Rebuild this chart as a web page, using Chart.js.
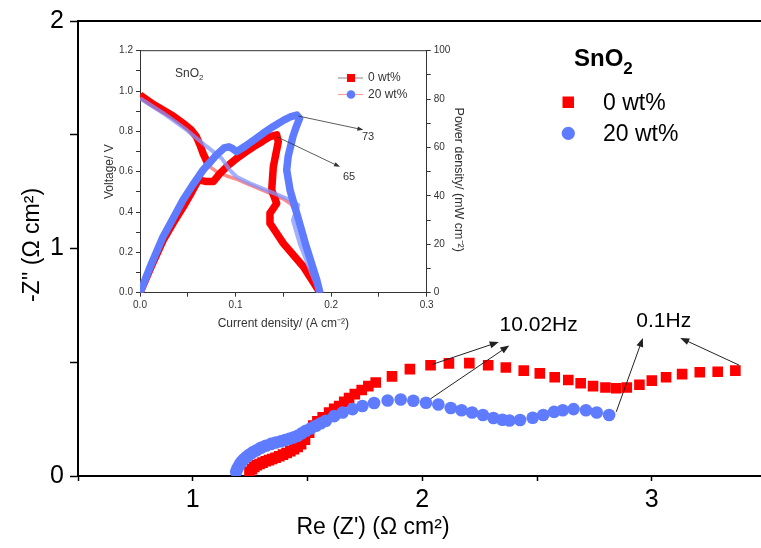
<!DOCTYPE html>
<html>
<head>
<meta charset="utf-8">
<script src="https://cdn.jsdelivr.net/npm/chart.js@4.4.0/dist/chart.umd.min.js"></script>
<style>
  body { margin: 0; background: #fff; }
  #wrap { position: relative; width: 761px; height: 548px; }
  #mainChart { position: absolute; left: 0; top: 0; }
  #insetChart { position: absolute; left: 85px; top: 38px; }
</style>
</head>
<body>
<div id="wrap">
  <canvas id="mainChart" width="761" height="548"></canvas>
  <canvas id="insetChart" width="400" height="300"></canvas>
</div>
<script>
const family = "'Liberation Sans', Arial, Helvetica, sans-serif";

// Nyquist data, 0 wt% (red squares)
const redX = [1.247,1.258,1.268,1.279,1.291,1.304,1.318,1.332,1.346,1.361,1.377,1.393,1.409,1.425,1.441,1.457,1.472,1.489,1.507,1.525,1.543,1.566,1.594,1.616,1.638,1.660,1.681,1.706,1.736,1.765,1.797,1.868,1.946,2.036,2.116,2.205,2.287,2.364,2.442,2.512,2.577,2.636,2.690,2.744,2.798,2.845,2.891,2.946,3.000,3.062,3.132,3.209,3.287,3.364];
const redY = [0.018,0.030,0.040,0.047,0.053,0.059,0.065,0.070,0.075,0.080,0.087,0.094,0.101,0.109,0.118,0.128,0.140,0.160,0.190,0.222,0.240,0.258,0.279,0.295,0.308,0.326,0.343,0.360,0.378,0.395,0.411,0.438,0.470,0.487,0.495,0.496,0.487,0.477,0.463,0.451,0.434,0.422,0.408,0.395,0.389,0.386,0.389,0.401,0.419,0.434,0.448,0.456,0.458,0.463];

// Nyquist data, 20 wt% (blue circles)
const blueX = [1.189,1.196,1.204,1.212,1.222,1.234,1.247,1.261,1.278,1.297,1.318,1.341,1.362,1.384,1.402,1.420,1.438,1.457,1.475,1.493,1.515,1.537,1.558,1.580,1.616,1.653,1.696,1.739,1.790,1.849,1.906,1.961,2.016,2.070,2.124,2.171,2.217,2.264,2.310,2.349,2.380,2.426,2.481,2.527,2.574,2.612,2.659,2.713,2.760,2.814];
const blueY = [0.019,0.035,0.050,0.062,0.073,0.084,0.094,0.104,0.113,0.124,0.133,0.141,0.147,0.153,0.158,0.163,0.169,0.177,0.188,0.199,0.210,0.221,0.232,0.243,0.263,0.279,0.294,0.308,0.321,0.332,0.336,0.331,0.322,0.314,0.299,0.289,0.279,0.268,0.255,0.247,0.244,0.246,0.256,0.268,0.282,0.289,0.294,0.289,0.279,0.268];

const mainXTicks = [1, 2, 3];
const mainYTicks = [0, 1, 2];

// frequency labels and their arrows (data units: x0, y0 -> x1, y1)
const hzLabels = [{text: '10.02Hz', x: 2.507, y: 0.662}, {text: '0.1Hz', x: 3.052, y: 0.68}];
const hzArrows = [[2.045,0.491,2.333,0.589],[2.037,0.340,2.379,0.574],[2.845,0.282,2.961,0.607],[3.381,0.487,3.124,0.607]];

// inset: polarisation (voltage) and power density curves
const ivRedX = [0,0.012,0.024,0.035,0.045,0.053,0.059,0.063,0.066,0.070,0.073,0.080,0.090,0.100,0.110,0.120,0.130,0.140,0.150,0.158,0.165,0.172,0.180,0.187];
const ivRedV = [0.98,0.94,0.906,0.875,0.84,0.81,0.774,0.73,0.691,0.65,0.625,0.60,0.58,0.565,0.545,0.525,0.505,0.485,0.465,0.44,0.38,0.28,0.15,0.02];
const ivBlueX = [0,0.0244,0.0488,0.070,0.0855,0.094,0.101,0.115,0.136,0.157,0.1656,0.160,0.167,0.178,0.1866];
const ivBlueV = [0.964,0.89,0.807,0.724,0.666,0.608,0.575,0.542,0.501,0.46,0.435,0.36,0.245,0.113,0.013];
const ipRedX = [0,0.012,0.0244,0.035,0.0453,0.054,0.061,0.0698,0.0767,0.0837,0.092,0.1012,0.110,0.1186,0.128,0.136,0.143,0.1447,0.142,0.1395,0.1378,0.143,0.136,0.136,0.15,0.171,0.1866];
const ipRedP = [0,11,21.8,29,35.5,41.5,46.6,45.9,45.9,49.3,52.5,55.5,58,60.3,62.5,64.5,65.2,62.4,57,52,42.4,36.9,32.8,28.7,20.4,10.7,1.1];
const ipBlueX = [0,0.012,0.024,0.035,0.045,0.056,0.066,0.080,0.088,0.093,0.097,0.101,0.110,0.120,0.129,0.140,0.150,0.158,0.164,0.167,0.163,0.160,0.155,0.1535,0.157,0.164,0.174,0.185,0.188];
const ipBlueP = [0,12,23,31,38.3,45,50.7,56.9,59.8,60.3,59.5,58.3,60.5,63.3,65.9,68.8,71.2,72.8,73.4,72,68,64.5,56.2,50.7,42.4,32.8,19,5.2,0.4];
const peakLabels = [{text: '73', x: 0.2386, p: 64.3, from: [0.1656, 73.0], to: [0.2337, 67.3]},
                    {text: '65', x: 0.2187, p: 47.8, from: [0.143, 64.5], to: [0.2093, 52.0]}];

const RED = '#ff0000';
const BLUE = '#5f7bff';

function pts(xs, ys) { return xs.map((x, i) => ({x: x, y: ys[i]})); }

function arrow(ctx, x1, y1, x2, y2, len, wid) {
  const a = Math.atan2(y2 - y1, x2 - x1);
  ctx.beginPath();
  ctx.moveTo(x1, y1);
  ctx.lineTo(x2 - Math.cos(a) * len * 0.5, y2 - Math.sin(a) * len * 0.5);
  ctx.stroke();
  ctx.beginPath();
  ctx.moveTo(x2, y2);
  ctx.lineTo(x2 - len * Math.cos(a) + wid * Math.sin(a), y2 - len * Math.sin(a) - wid * Math.cos(a));
  ctx.lineTo(x2 - len * Math.cos(a) - wid * Math.sin(a), y2 - len * Math.sin(a) + wid * Math.cos(a));
  ctx.closePath();
  ctx.fill();
}

// ---------- main chart ----------
const mainDecor = {
  id: 'mainDecor',
  afterDatasetsDraw(chart) {
    const ctx = chart.ctx, a = chart.chartArea;
    const xs = chart.scales.x, ys = chart.scales.y;
    ctx.save();
    // top frame line
    ctx.strokeStyle = '#000';
    ctx.lineWidth = 2;
    ctx.beginPath();
    ctx.moveTo(a.left, a.top);
    ctx.lineTo(761, a.top);
    ctx.stroke();
    ctx.beginPath();
    ctx.moveTo(a.right, a.bottom);
    ctx.lineTo(761, a.bottom);
    ctx.stroke();

    // arrows + frequency labels
    ctx.strokeStyle = '#222';
    ctx.fillStyle = '#222';
    ctx.lineWidth = 1;
    hzArrows.forEach(r => {
      arrow(ctx, xs.getPixelForValue(r[0]), ys.getPixelForValue(r[1]),
                 xs.getPixelForValue(r[2]), ys.getPixelForValue(r[3]), 9, 3.5);
    });
    ctx.fillStyle = '#000';
    ctx.font = '21px ' + family;
    ctx.textAlign = 'center';
    ctx.textBaseline = 'middle';
    hzLabels.forEach(l => ctx.fillText(l.text, xs.getPixelForValue(l.x), ys.getPixelForValue(l.y)));

    // legend
    ctx.textAlign = 'left';
    ctx.font = 'bold 24px ' + family;
    ctx.fillText('SnO', 574, 59);
    const w = ctx.measureText('SnO').width;
    ctx.font = 'bold 17px ' + family;
    ctx.fillText('2', 574 + w, 69);
    ctx.fillStyle = RED;
    ctx.fillRect(562.5, 96.5, 11.5, 11.5);
    ctx.fillStyle = BLUE;
    ctx.beginPath();
    ctx.arc(568.3, 133.3, 6.6, 0, Math.PI * 2);
    ctx.fill();
    ctx.fillStyle = '#000';
    ctx.font = '23px ' + family;
    ctx.fillText('0 wt%', 603, 104);
    ctx.fillText('20 wt%', 603, 135);

    // axis titles
    ctx.textAlign = 'center';
    ctx.fillText("Re (Z') (\u03A9 cm\u00B2)", 373, 528);
    ctx.translate(33, 245);
    ctx.rotate(-Math.PI / 2);
    ctx.fillText("-Z'' (\u03A9 cm\u00B2)", 0, 0);
    ctx.restore();
  }
};

new Chart(document.getElementById('mainChart'), {
  type: 'scatter',
  data: {
    datasets: [
      {label: '20 wt%', data: pts(blueX, blueY), pointStyle: 'circle', pointRadius: 6.3,
       backgroundColor: BLUE, borderWidth: 0, showLine: false},
      {label: '0 wt%', data: pts(redX, redY), pointStyle: 'rect', pointRadius: 7.5,
       backgroundColor: RED, borderWidth: 0, showLine: false}
    ]
  },
  options: {
    responsive: false,
    animation: false,
    devicePixelRatio: 1,
    layout: {padding: {top: 15, right: 0, left: 0, bottom: 0}},
    plugins: {legend: {display: false}, tooltip: {enabled: false}},
    scales: {
      x: {
        type: 'linear', min: 0.5, max: 3.443,
        afterFit: s => { s.height = 72; },
        ticks: {stepSize: 0.5, includeBounds: false, autoSkip: false, maxRotation: 0, padding: 4,
                color: '#000', font: {size: 25, family: family},
                callback: v => mainXTicks.find(t => Math.abs(t - v) < 1e-6) !== undefined ? String(Math.round(v)) : ''},
        grid: {drawOnChartArea: false, color: '#000', tickLength: 5, tickWidth: 1.5},
        border: {color: '#000', width: 2}
      },
      y: {
        min: 0, max: 2,
        afterFit: s => { s.width = 78; },
        ticks: {stepSize: 0.5, autoSkip: false, padding: 6, color: '#000', font: {size: 25, family: family},
                callback: v => mainYTicks.find(t => Math.abs(t - v) < 1e-6) !== undefined ? String(Math.round(v)) : ''},
        grid: {drawOnChartArea: false, color: '#000', tickLength: 8, tickWidth: 1.5},
        border: {color: '#000', width: 2}
      }
    }
  },
  plugins: [mainDecor]
});

// ---------- inset chart ----------
const insetDecor = {
  id: 'insetDecor',
  afterDatasetsDraw(chart) {
    const ctx = chart.ctx, a = chart.chartArea;
    const xs = chart.scales.x, ys = chart.scales.y1;
    ctx.save();
    ctx.strokeStyle = '#333';
    ctx.lineWidth = 1;
    ctx.beginPath();
    ctx.moveTo(a.left, a.top);
    ctx.lineTo(a.right, a.top);
    ctx.stroke();

    ctx.strokeStyle = '#333';
    ctx.fillStyle = '#333';
    ctx.lineWidth = 0.8;
    ctx.font = '11px ' + family;
    ctx.textAlign = 'center';
    ctx.textBaseline = 'middle';
    peakLabels.forEach(l => {
      arrow(ctx, xs.getPixelForValue(l.from[0]), ys.getPixelForValue(l.from[1]),
                 xs.getPixelForValue(l.to[0]), ys.getPixelForValue(l.to[1]), 6, 2.2);
      ctx.fillText(l.text, xs.getPixelForValue(l.x), ys.getPixelForValue(l.p));
    });

    // SnO2 label
    ctx.textAlign = 'left';
    ctx.font = '12px ' + family;
    ctx.fillText('SnO', 90, 36);
    const w = ctx.measureText('SnO').width;
    ctx.font = '8px ' + family;
    ctx.fillText('2', 90 + w, 40);

    // legend
    ctx.lineWidth = 1.2;
    ctx.strokeStyle = '#999';
    ctx.beginPath(); ctx.moveTo(253, 40); ctx.lineTo(278, 40); ctx.stroke();
    ctx.fillStyle = RED;
    ctx.fillRect(262, 36, 8, 8);
    ctx.strokeStyle = '#f6a0a0';
    ctx.beginPath(); ctx.moveTo(253, 56.5); ctx.lineTo(278, 56.5); ctx.stroke();
    ctx.fillStyle = BLUE;
    ctx.beginPath(); ctx.arc(266, 56.5, 4.3, 0, Math.PI * 2); ctx.fill();
    ctx.fillStyle = '#333';
    ctx.font = '12px ' + family;
    ctx.fillText('0 wt%', 283, 40);
    ctx.fillText('20 wt%', 283, 57);

    // axis titles
    ctx.font = '12px ' + family;
    ctx.textAlign = 'center';
    ctx.fillText('Current density/ (A cm\u207B\u00B2)', (a.left + a.right) / 2, 286);
    ctx.save();
    ctx.translate(25, (a.top + a.bottom) / 2);
    ctx.rotate(-Math.PI / 2);
    ctx.fillText('Voltage/ V', 0, 0);
    ctx.restore();
    ctx.font = '12.5px ' + family;
    ctx.translate(373, (a.top + a.bottom) / 2 + 8);
    ctx.rotate(Math.PI / 2);
    ctx.fillText('Power density/ (mW cm\u207B\u00B2)', 0, 0);
    ctx.restore();
  }
};

const axisGrey = '#333';
new Chart(document.getElementById('insetChart'), {
  type: 'scatter',
  data: {
    datasets: [
      {label: '20 wt% P', data: pts(ipBlueX, ipBlueP), yAxisID: 'y1', showLine: true, pointRadius: 0,
       borderColor: BLUE, borderWidth: 7.5, borderJoinStyle: 'round', borderCapStyle: 'round'},
      {label: '20 wt% V', data: pts(ivBlueX, ivBlueV), yAxisID: 'y', showLine: true, pointRadius: 0,
       borderColor: 'rgba(130,150,255,0.75)', borderWidth: 4, borderJoinStyle: 'round'},
      {label: '0 wt% P', data: pts(ipRedX, ipRedP), yAxisID: 'y1', showLine: true, pointRadius: 0,
       borderColor: RED, borderWidth: 7.5, borderJoinStyle: 'round', borderCapStyle: 'round'},
      {label: '0 wt% V', data: pts(ivRedX, ivRedV), yAxisID: 'y', showLine: true, pointRadius: 0,
       borderColor: RED, borderWidth: 3.5, borderJoinStyle: 'round',
       segment: {
         borderWidth: c => c.p0DataIndex < 10 ? 7.5 : 3.5,
         borderColor: c => c.p0DataIndex < 10 ? RED : 'rgba(255,90,90,0.7)'
       }}
    ]
  },
  options: {
    responsive: false,
    animation: false,
    devicePixelRatio: 1,
    layout: {padding: {top: 12.7, right: 0, left: 0, bottom: 0}},
    plugins: {legend: {display: false}, tooltip: {enabled: false}},
    scales: {
      x: {
        type: 'linear', min: 0, max: 0.3,
        afterFit: s => { s.height = 45.3; },
        ticks: {stepSize: 0.05, autoSkip: false, maxRotation: 0, padding: 3, color: axisGrey,
                font: {size: 10, family: family},
                callback: (v, i) => i % 2 === 0 ? v.toFixed(1) : ''},
        grid: {drawOnChartArea: false, color: axisGrey, tickLength: 4},
        border: {color: axisGrey, width: 1}
      },
      y: {
        position: 'left', min: 0, max: 1.2,
        afterFit: s => { s.width = 55; },
        ticks: {stepSize: 0.1, autoSkip: false, padding: 3, color: axisGrey,
                font: {size: 10, family: family},
                callback: (v, i) => i % 2 === 0 ? v.toFixed(1) : ''},
        grid: {drawOnChartArea: false, color: axisGrey, tickLength: 4},
        border: {color: axisGrey, width: 1}
      },
      y1: {
        position: 'right', min: 0, max: 100,
        afterFit: s => { s.width = 58.3; },
        ticks: {stepSize: 10, autoSkip: false, padding: 3, color: axisGrey,
                font: {size: 10, family: family},
                callback: (v, i) => i % 2 === 0 ? String(v) : ''},
        grid: {drawOnChartArea: false, color: axisGrey, tickLength: 4},
        border: {color: axisGrey, width: 1}
      }
    }
  },
  plugins: [insetDecor]
});
</script>
</body>
</html>
